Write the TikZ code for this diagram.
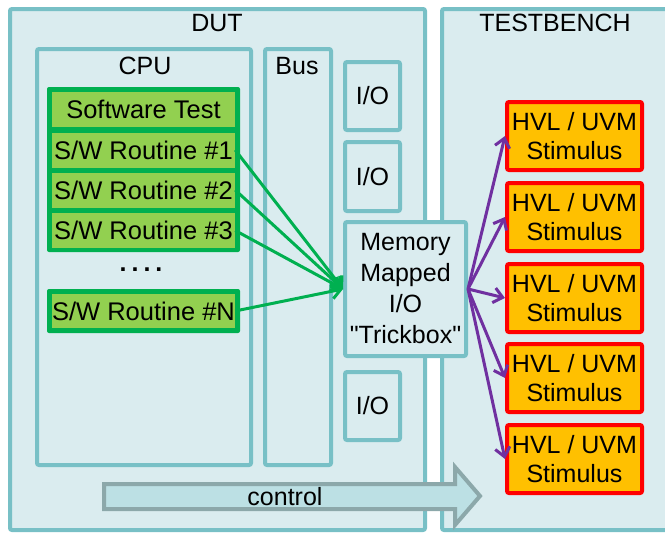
\documentclass[tikz,border=0pt]{standalone}
\usepackage{fontspec}
\setmainfont{Liberation Sans}
\newfontfamily\plainq{Liberation Sans}
\usetikzlibrary{arrows.meta}
\definecolor{tealb}{RGB}{120,192,198}
\definecolor{boxfill}{RGB}{218,236,239}
\definecolor{dkgreen}{RGB}{0,176,80}
\definecolor{ltgreen}{RGB}{146,208,80}
\definecolor{stimfill}{RGB}{255,192,0}
\definecolor{stimred}{RGB}{255,0,0}
\definecolor{purplec}{RGB}{112,48,160}
\definecolor{ctrlfill}{RGB}{188,224,228}
\definecolor{ctrldraw}{RGB}{140,168,170}
\begin{document}
\begin{tikzpicture}[x=1pt,y=-1pt,
  container/.style={draw=tealb, fill=boxfill, line width=4pt, rounded corners=2pt, inner sep=0pt},
  lbl/.style={font=\fontsize{25}{30}\selectfont, inner sep=0pt},
  grp/.style={fill=dkgreen, rounded corners=2pt, inner sep=0pt, minimum width=193pt},
  row/.style={fill=ltgreen, inner sep=0pt, minimum width=183pt, font=\fontsize{25.5}{30}\selectfont},
  stim/.style={draw=stimred, fill=stimfill, line width=4pt, rounded corners=2pt, minimum width=135pt, minimum height=68pt, align=center, font=\fontsize{25}{29}\selectfont, inner sep=0pt},
  garrow/.style={draw=dkgreen, line width=3pt, -{Straight Barb[length=9pt,width=15pt]}},
  parrow/.style={draw=purplec, line width=3pt, -{Straight Barb[length=9pt,width=15pt]}}
]
\useasboundingbox (0,0) rectangle (665,533);
% big containers
\node[container, minimum width=415pt, minimum height=521pt] (dut) at (217.5,269.5) {};
\node[container, minimum width=238pt, minimum height=521pt] (tb) at (561,269.5) {};
\node[lbl] (dutl) at (217,23) {DUT};
\node[lbl] (tbl) at (555,23) {TESTBENCH};
% CPU and bus
\node[container, minimum width=214pt, minimum height=416pt] (cpu) at (144,257) {};
\node[container, minimum width=66pt, minimum height=416pt] (bus) at (298,257) {};
\node[lbl] (cpul) at (145,66) {CPU};
\node[lbl] (busl) at (297,66) {Bus};
% software test group
\node[grp, minimum height=165pt] (swgrp) at (143.5,169.5) {};
\node[row, minimum height=35pt] (sw0) at (143.5,109.5) {Software Test};
\node[row, minimum height=35pt] (sw1) at (143.5,150) {S/W Routine \#1};
\node[row, minimum height=35pt] (sw2) at (143.5,190) {S/W Routine \#2};
\node[row, minimum height=35pt] (sw3) at (143.5,230.5) {S/W Routine \#3};
\node[lbl, font=\bfseries\fontsize{25}{30}\selectfont] (dots) at (141,270) {.\hspace{5pt}.\hspace{5pt}.\hspace{5pt}.};
\node[grp, minimum height=44pt] (swngrp) at (143.5,311) {};
\node[row, minimum height=34pt] (swn) at (143.5,311) {S/W Routine \#N};
% I/O boxes
\node[container, minimum width=55pt, minimum height=68pt, lbl] (io1) at (372.5,96) {I/O};
\node[container, minimum width=55pt, minimum height=69pt, lbl] (io2) at (372.5,176.5) {I/O};
\node[container, minimum width=55pt, minimum height=68pt, lbl] (io3) at (372.5,406) {I/O};
\node[container, minimum width=121pt, minimum height=134pt, align=center, font=\fontsize{25}{31}\selectfont] (mem) at (405.5,289) {Memory\\Mapped\\I/O\\{\plainq"Trickbox"}};
% stimulus boxes
\node[stim] (st1) at (574.5,136) {HVL / UVM\\Stimulus};
\node[stim] (st2) at (574.5,217) {HVL / UVM\\Stimulus};
\node[stim] (st3) at (574.5,298) {HVL / UVM\\Stimulus};
\node[stim] (st4) at (574.5,378) {HVL / UVM\\Stimulus};
\node[stim] (st5) at (574.5,459) {HVL / UVM\\Stimulus};
% green arrows
\draw[garrow] (sw1.east) -- (mem.west);
\draw[garrow] (sw2.east) -- (mem.west);
\draw[garrow] (sw3.east) -- (mem.west);
\draw[garrow] (swn.east) -- (mem.west);
% purple arrows
\draw[parrow] (mem.east) -- (st1.west);
\draw[parrow] (mem.east) -- (st2.west);
\draw[parrow] (mem.east) -- (st3.west);
\draw[parrow] (mem.east) -- (st4.west);
\draw[parrow] (mem.east) -- (st5.west);
% control arrow
\draw[draw=ctrldraw, fill=ctrlfill, line width=4pt, line join=miter]
  (104,484) -- (455,484) -- (455,467) -- (480,496) -- (455,525) -- (455,509) -- (104,509) -- cycle;
\node[lbl] (ctrl) at (285,497) {control};
\end{tikzpicture}
\end{document}
